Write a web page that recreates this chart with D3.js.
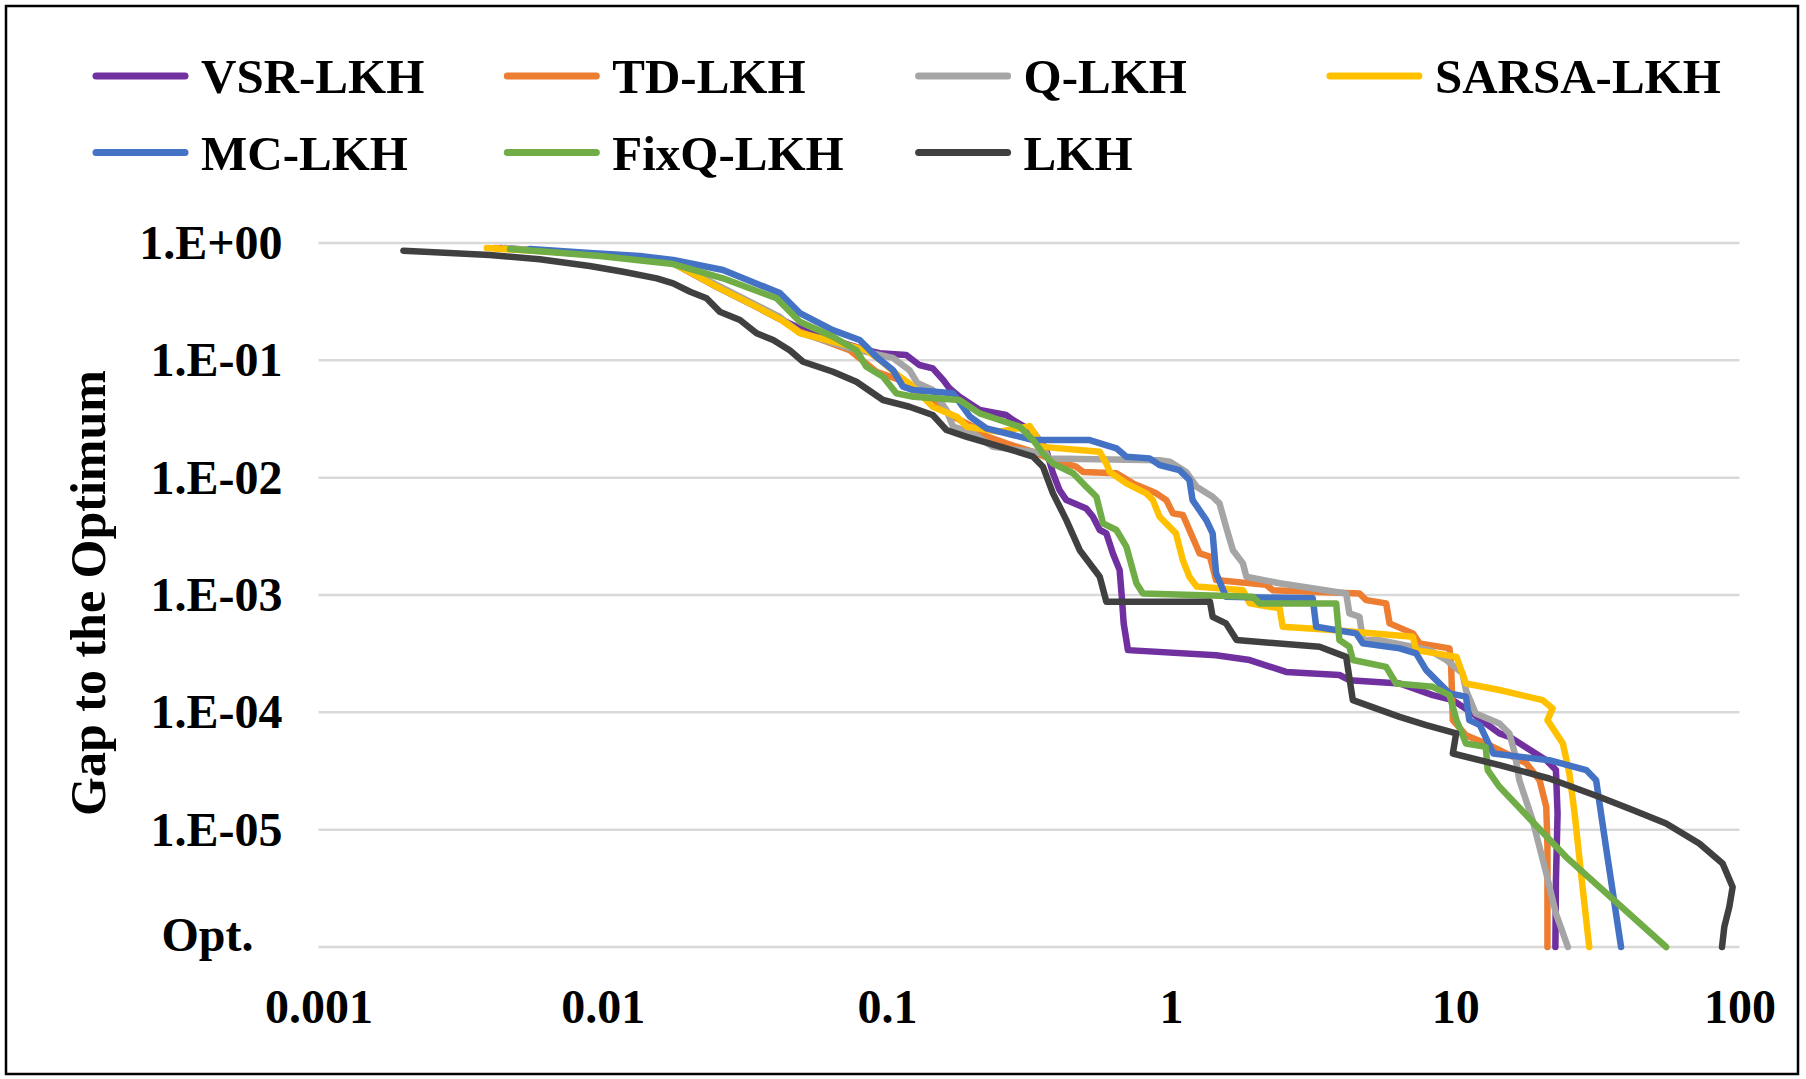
<!DOCTYPE html>
<html><head><meta charset="utf-8">
<script src="https://cdn.jsdelivr.net/npm/d3@7"></script>
<style>
html,body{margin:0;padding:0;background:#fff;}
svg{display:block;}
text{font-family:"Liberation Serif","Times New Roman",serif;font-weight:bold;fill:#000;}
</style></head><body>
<svg id="chart" width="1806" height="1079"></svg>
<script>
// ---------- data ----------
const seriesNames = ["VSR-LKH","TD-LKH","Q-LKH","SARSA-LKH","MC-LKH","FixQ-LKH","LKH"];
const seriesColors = ["#7030A0","#ED7D31","#A5A5A5","#FFC000","#4472C4","#70AD47","#404040"];

const VSR_LKH = [[0.00435,0.906],[0.00902,0.806],[0.0177,0.675],[0.0252,0.422],[0.0348,0.285],[0.0420,0.225],[0.0535,0.171],[0.0740,0.135],[0.0847,0.122],[0.0944,0.115],[0.117,0.111],[0.130,0.0912],[0.145,0.0855],[0.158,0.0679],[0.166,0.0577],[0.180,0.0489],[0.212,0.0377],[0.263,0.0342],[0.278,0.0310],[0.327,0.0246],[0.364,0.0172],[0.384,0.0109],[0.405,0.00784],[0.428,0.00644],[0.503,0.00547],[0.531,0.00464],[0.561,0.00358],[0.592,0.00335],[0.624,0.00226],[0.659,0.00163],[0.670,0.000998],[0.681,0.000573],[0.705,0.000339],[1.44,0.000307],[1.89,0.000279],[2.54,0.000221],[3.91,0.000208],[4.24,0.000188],[6.37,0.000176],[8.33,0.000140],[9.80,0.000127],[11.5,0.0000979],[12.8,0.0000804],[14.3,0.0000661],[15.5,0.0000618],[20.9,0.0000391],[22.6,0.0000322],[22.9,0.0000137],[22.6,0.00000372],[22.5,0.000001]];

const TD_LKH = [[0.00418,0.906],[0.00902,0.806],[0.0177,0.675],[0.0252,0.430],[0.0348,0.290],[0.0420,0.229],[0.0494,0.175],[0.0740,0.122],[0.0919,0.0799],[0.111,0.0679],[0.130,0.0523],[0.153,0.0402],[0.171,0.0331],[0.201,0.0272],[0.218,0.0231],[0.263,0.0196],[0.327,0.0166],[0.384,0.0141],[0.464,0.0124],[0.490,0.0112],[0.642,0.0109],[0.734,0.00894],[0.887,0.00735],[0.962,0.00644],[1.015,0.00496],[1.10,0.00480],[1.16,0.00358],[1.26,0.00226],[1.37,0.00212],[1.44,0.00134],[2.16,0.00122],[2.28,0.00110],[4.60,0.00103],[4.86,0.000905],[5.71,0.000848],[5.87,0.000573],[7.09,0.000471],[7.48,0.000387],[9.54,0.000351],[9.67,0.000244],[9.80,0.0000858],[10.9,0.0000639],[12.8,0.0000543],[17.8,0.0000367],[19.8,0.0000264],[20.9,0.0000156],[21.1,0.00000713],[21.1,0.000001]];

const Q_LKH = [[0.00453,0.906],[0.00902,0.806],[0.0177,0.675],[0.0252,0.439],[0.0348,0.296],[0.0420,0.234],[0.0494,0.171],[0.0740,0.127],[0.105,0.105],[0.120,0.0827],[0.128,0.0641],[0.145,0.0558],[0.162,0.0377],[0.171,0.0272],[0.201,0.0239],[0.236,0.0183],[0.364,0.0161],[0.370,0.0146],[0.911,0.0141],[0.988,0.0137],[1.13,0.0112],[1.23,0.00836],[1.40,0.00688],[1.48,0.00604],[1.56,0.00382],[1.65,0.00241],[1.79,0.00186],[1.84,0.00143],[2.41,0.00126],[4.13,0.00103],[4.24,0.000697],[4.60,0.000652],[4.73,0.000413],[5.41,0.000413],[8.11,0.000339],[9.29,0.000279],[10.6,0.000215],[10.9,0.000155],[11.8,0.0000979],[14.3,0.0000804],[15.5,0.0000661],[16.2,0.0000446],[16.8,0.0000264],[18.7,0.0000121],[20.9,0.00000423],[22.6,0.00000193],[24.9,0.000001]];

const SARSA_LKH = [[0.00391,0.906],[0.00902,0.806],[0.0177,0.675],[0.0252,0.422],[0.0348,0.285],[0.0420,0.225],[0.0494,0.171],[0.0847,0.122],[0.0944,0.101],[0.111,0.0725],[0.120,0.0637],[0.145,0.0402],[0.176,0.0331],[0.191,0.0272],[0.249,0.0246],[0.318,0.0275],[0.354,0.0183],[0.561,0.0166],[0.592,0.0132],[0.608,0.0112],[0.696,0.00894],[0.818,0.00735],[0.863,0.00644],[0.911,0.00464],[1.04,0.00335],[1.10,0.00198],[1.16,0.00143],[1.23,0.00118],[1.79,0.00110],[1.89,0.000848],[2.41,0.000769],[2.47,0.000536],[3.71,0.000502],[7.09,0.000440],[7.28,0.000339],[10.1,0.000297],[10.9,0.000176],[14.3,0.000155],[20.3,0.000127],[22.0,0.000108],[21.1,0.0000858],[23.9,0.0000543],[25.2,0.0000301],[26.3,0.0000137],[27.7,0.00000423],[29.6,0.000001]];

const MC_LKH = [[0.00554,0.889],[0.00902,0.822],[0.0135,0.775],[0.0177,0.716],[0.0265,0.589],[0.0357,0.439],[0.0420,0.375],[0.0494,0.253],[0.0645,0.181],[0.0802,0.149],[0.0919,0.107],[0.105,0.0827],[0.114,0.0596],[0.124,0.0558],[0.171,0.0523],[0.196,0.0331],[0.224,0.0263],[0.278,0.0231],[0.327,0.0209],[0.517,0.0209],[0.642,0.0178],[0.696,0.0151],[0.840,0.0146],[0.911,0.0128],[1.07,0.0116],[1.16,0.00954],[1.19,0.00644],[1.33,0.00435],[1.40,0.00335],[1.44,0.00153],[1.56,0.000965],[3.15,0.000936],[3.24,0.000536],[4.48,0.000471],[4.73,0.000387],[6.37,0.000351],[7.28,0.000318],[7.90,0.000229],[9.54,0.000145],[10.9,0.000136],[11.2,0.0000858],[12.2,0.0000778],[13.6,0.0000446],[21.4,0.0000391],[28.9,0.0000322],[31.3,0.0000264],[33.9,0.00000713],[38.3,0.000001]];

const FixQ_LKH = [[0.00472,0.889],[0.00977,0.775],[0.0177,0.662],[0.0265,0.500],[0.0409,0.338],[0.0494,0.213],[0.0646,0.159],[0.0781,0.122],[0.0847,0.0882],[0.0969,0.0725],[0.108,0.0523],[0.124,0.0489],[0.180,0.0459],[0.212,0.0353],[0.249,0.0310],[0.293,0.0272],[0.327,0.0209],[0.354,0.0161],[0.384,0.0132],[0.452,0.0109],[0.503,0.00836],[0.546,0.00688],[0.576,0.00408],[0.642,0.00358],[0.696,0.00258],[0.755,0.00126],[0.796,0.00103],[1.94,0.000965],[2.05,0.000848],[3.81,0.000848],[3.91,0.000413],[4.24,0.000362],[4.36,0.000279],[5.71,0.000244],[6.19,0.000176],[8.33,0.000165],[9.54,0.000140],[10.1,0.0000858],[10.9,0.0000543],[12.8,0.0000508],[13.0,0.0000322],[14.3,0.0000232],[24.5,0.00000587],[55.2,0.000001]];

const LKH = [[0.00199,0.860],[0.0040,0.790],[0.0060,0.726],[0.0090,0.637],[0.0118,0.569],[0.0155,0.500],[0.0177,0.453],[0.0203,0.384],[0.0232,0.338],[0.0258,0.260],[0.0304,0.221],[0.0348,0.170],[0.0398,0.149],[0.0455,0.122],[0.0507,0.0973],[0.0646,0.0799],[0.0781,0.0657],[0.0969,0.0459],[0.120,0.0402],[0.145,0.0342],[0.162,0.0255],[0.191,0.0223],[0.263,0.0178],[0.327,0.0151],[0.354,0.0124],[0.384,0.00735],[0.428,0.00435],[0.477,0.00241],[0.561,0.00143],[0.592,0.000875],[1.37,0.000875],[1.40,0.000652],[1.56,0.000573],[1.70,0.000413],[3.33,0.000362],[4.13,0.000297],[4.36,0.000127],[6.37,0.0000915],[7.90,0.0000778],[10.07,0.0000661],[9.80,0.0000446],[14.3,0.0000355],[21.4,0.0000273],[32.2,0.0000190],[42.1,0.0000147],[55.2,0.0000113],[72.2,0.00000763],[87.2,0.00000515],[94.6,0.00000325],[92.1,0.0000022],[88.4,0.00000148],[86.8,0.000001]];

const seriesData = [VSR_LKH, TD_LKH, Q_LKH, SARSA_LKH, MC_LKH, FixQ_LKH, LKH];

const xTickValues = [0.001, 0.01, 0.1, 1, 10, 100];
const xTickLabels = ["0.001", "0.01", "0.1", "1", "10", "100"];
const yTickValues = [1, 0.1, 0.01, 0.001, 0.0001, 0.00001, 0.000001];
const yTickLabels = ["1.E+00", "1.E-01", "1.E-02", "1.E-03", "1.E-04", "1.E-05", "Opt."];
const yTitle = "Gap to the Optimum";

// ---------- drawing ----------
const W = 1806, H = 1079;
const svg = d3.select("#chart");
svg.append("rect").attr("x", 0).attr("y", 0).attr("width", W).attr("height", H).attr("fill", "#fff");
svg.append("rect").attr("x", 6).attr("y", 6).attr("width", 1792).attr("height", 1068)
  .attr("fill", "none").attr("stroke", "#000").attr("stroke-width", 2.5);

const x = d3.scaleLog().domain([0.001, 100]).range([318.5, 1739.5]);
const y = d3.scaleLog().domain([1e-6, 1]).range([947, 243]);

// gridlines
svg.append("g").selectAll("line").data(yTickValues).join("line")
  .attr("x1", x.range()[0]).attr("x2", x.range()[1])
  .attr("y1", d => y(d)).attr("y2", d => y(d))
  .attr("stroke", "#d9d9d9").attr("stroke-width", 2.5);

// y axis
const gy = svg.append("g").attr("transform", `translate(${x.range()[0]},0)`)
  .call(d3.axisLeft(y).tickValues(yTickValues).tickFormat((d, i) => yTickLabels[i]).tickSize(0).tickPadding(36));
gy.select(".domain").remove();
gy.selectAll("text").style("font-size", "48px").attr("fill", "#000");
gy.selectAll(".tick").filter(d => d === 1e-6).select("text").attr("x", -65).attr("dy", "0.08em");

// x axis
const gx = svg.append("g").attr("transform", `translate(0,${y.range()[0]})`)
  .call(d3.axisBottom(x).tickValues(xTickValues).tickFormat((d, i) => xTickLabels[i]).tickSize(0).tickPadding(42));
gx.select(".domain").remove();
gx.selectAll("text").style("font-size", "48px").attr("fill", "#000");

// y title
svg.append("text").attr("transform", "translate(105,593) rotate(-90)")
  .attr("text-anchor", "middle").style("font-size", "50px").text(yTitle);

// series
const line = d3.line().x(d => x(d[0])).y(d => y(d[1]));
svg.append("g").selectAll("path").data(seriesData).join("path")
  .attr("d", line).attr("fill", "none")
  .attr("stroke", (d, i) => seriesColors[i]).attr("stroke-width", 6.5)
  .attr("stroke-linejoin", "round").attr("stroke-linecap", "round");

// legend
const lg = svg.append("g").selectAll("g").data(seriesNames).join("g")
  .attr("transform", (d, i) => `translate(${96 + (i % 4) * 411.3},${76 + Math.floor(i / 4) * 76.5})`);
lg.append("line").attr("x1", 0).attr("x2", 89).attr("y1", 0).attr("y2", 0)
  .attr("stroke", (d, i) => seriesColors[i]).attr("stroke-width", 7).attr("stroke-linecap", "round");
lg.append("text").attr("x", 105).attr("y", 17).style("font-size", "49px").text(d => d);
</script>
</body></html>
